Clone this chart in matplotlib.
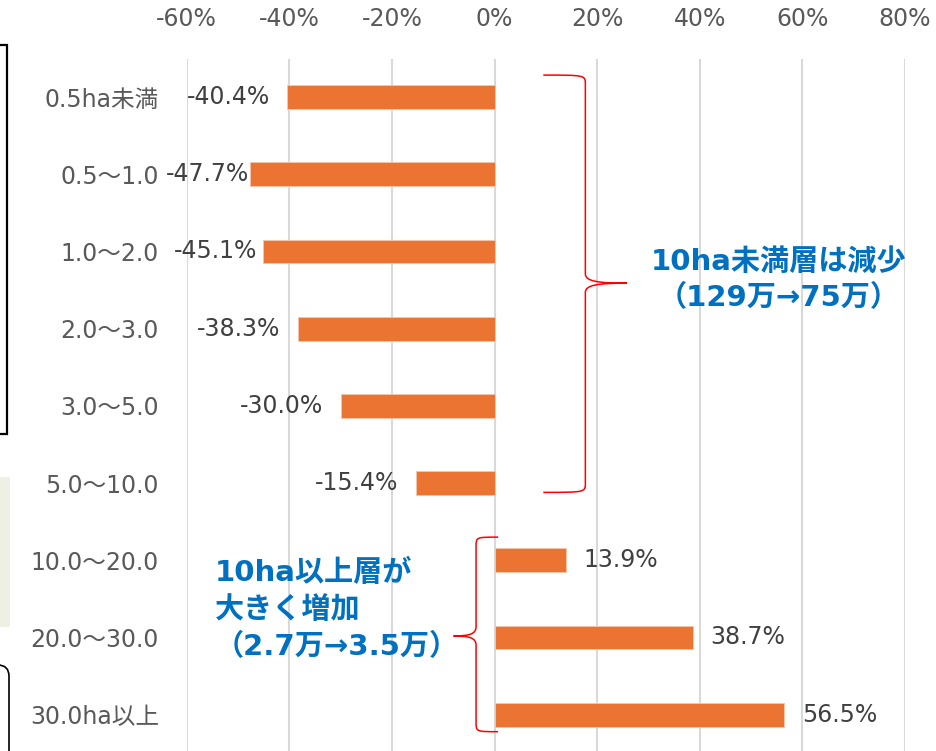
import matplotlib.pyplot as plt
from matplotlib.path import Path
from matplotlib.patches import PathPatch, Rectangle, FancyBboxPatch
from matplotlib.lines import Line2D

# data
categories = ["0.5ha未満", "0.5〜1.0", "1.0〜2.0", "2.0〜3.0", "3.0〜5.0",
              "5.0〜10.0", "10.0〜20.0", "20.0〜30.0", "30.0ha以上"]
change = [-0.404, -0.477, -0.451, -0.383, -0.300, -0.154, 0.139, 0.387, 0.565]
xticks = [-0.6, -0.4, -0.2, 0.0, 0.2, 0.4, 0.6, 0.8]
# two labels were nudged towards their bars in the original
label_pad = [12.5, 0.8, 3.9, 12.5, 12.5, 12.5, 12.5, 12.5, 12.5]

LATIN_CJK = ["DejaVu Sans", "Noto Sans CJK JP"]
W, H = 937, 751


def fx(px):
    return px / W


def fy(py):
    return 1 - py / H


def brace(ax, x_end, x_mid, x_tip, y_top, y_bot, y_tip, r, color="red", lw=1.1):
    k = 0.3 * (x_tip - x_mid)
    verts = [
        (x_end, y_top),
        (x_mid, y_top), (x_mid, y_top), (x_mid, y_top + r),
        (x_mid, y_tip - r),
        (x_mid, y_tip - 0.2 * r), (x_mid + k, y_tip), (x_tip, y_tip),
        (x_mid + k, y_tip), (x_mid, y_tip + 0.2 * r), (x_mid, y_tip + r),
        (x_mid, y_bot - r),
        (x_mid, y_bot), (x_mid, y_bot), (x_end, y_bot),
    ]
    codes = ([Path.MOVETO] + [Path.CURVE4] * 3 + [Path.LINETO] + [Path.CURVE4] * 6
             + [Path.LINETO] + [Path.CURVE4] * 3)
    ax.add_patch(PathPatch(Path(verts, codes), fill=False, edgecolor=color,
                           lw=lw, clip_on=False, zorder=4))


fig = plt.figure(figsize=(W / 100, H / 100), dpi=100)
ax = fig.add_axes([fx(186.7), fy(753.3), fx(905) - fx(186.7), fy(58.5) - fy(753.3)])

ypos = list(range(len(categories)))
ax.barh(ypos, change, height=0.31, color="#EB7433",
        edgecolor="#F6C4A6", linewidth=0.7, zorder=3)
for y, v, pad in zip(ypos, change, label_pad):
    sign = 1 if v >= 0 else -1
    ax.annotate(f"{v:.1%}", xy=(v, y), xytext=(sign * pad, 0),
                textcoords="offset points", ha="left" if v >= 0 else "right",
                va="center", fontsize=17, color="#404040", family=LATIN_CJK)

ax.set_xlim(-0.6, 0.8)
ax.set_ylim(len(categories) - 0.5, -0.5)
ax.set_xticks(xticks)
ax.set_xticklabels([f"{t:.0%}" for t in xticks], fontsize=17, color="#595959",
                   family=LATIN_CJK)
ax.xaxis.tick_top()
ax.set_yticks(ypos)
ax.set_yticklabels(categories, fontsize=17, color="#595959", family=LATIN_CJK)
ax.tick_params(axis="x", length=0, pad=20)
ax.tick_params(axis="y", length=0, pad=20)
ax.grid(axis="x", color="#D9D9D9", linewidth=1.5)
ax.grid(axis="y", visible=False)
ax.set_axisbelow(True)
for s in ax.spines.values():
    s.set_visible(False)

# braces
brace(ax, 0.095, 0.177, 0.258, -0.285, 5.12, 2.41, 0.12)
brace(ax, 0.007, -0.036, -0.080, 5.70, 8.22, 6.98, 0.12)

# annotations
blue = "#0070C0"
ax.text(0.553, 2.14, "10ha未満層は減少", ha="center", va="center", fontsize=21,
        fontweight="bold", color=blue, family=LATIN_CJK, zorder=5)
ax.text(0.553, 2.60, "（129万→75万）", ha="center", va="center", fontsize=21,
        fontweight="bold", color=blue, family=LATIN_CJK, zorder=5)
for i, line in enumerate(["10ha以上層が", "大きく増加", "（2.7万→3.5万）"]):
    ax.text(-0.545, 6.17 + 0.475 * i, line, ha="left", va="center", fontsize=21,
            fontweight="bold", color=blue, family=LATIN_CJK, zorder=5)

# edges of neighbouring slide boxes on the left
fig.add_artist(Line2D([fx(0), fx(7), fx(7), fx(0)], [fy(45), fy(45), fy(434), fy(434)],
                      color="black", lw=1.6, solid_joinstyle="miter"))
fig.add_artist(Rectangle((fx(0), fy(627)), fx(10), fy(477) - fy(627),
                         facecolor="#EEF0E3", edgecolor="none"))
fig.add_artist(FancyBboxPatch((fx(-30), fy(800)), fx(39), fy(665) - fy(800),
                              boxstyle="round,pad=0,rounding_size=0.012",
                              facecolor="none", edgecolor="black", lw=1.2,
                              mutation_aspect=W / H))

fig.savefig("out.png", dpi=100)
